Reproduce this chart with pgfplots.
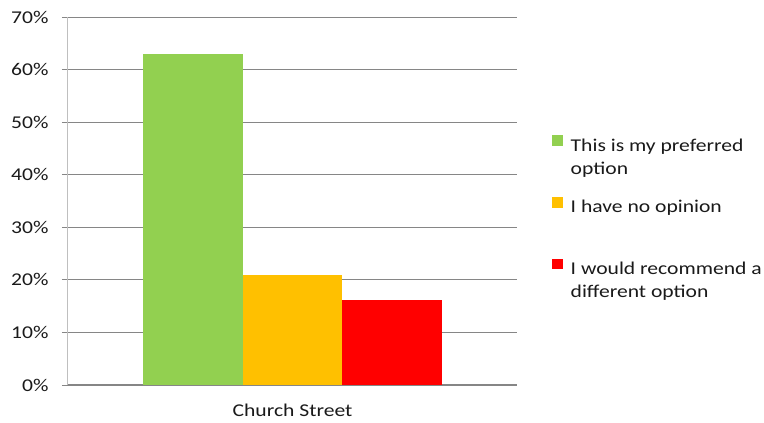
\documentclass[border=0pt]{standalone}
\usepackage{fontspec}
\setmainfont{Carlito}[FakeStretch=1.2]
\usepackage{pgfplots}
\pgfplotsset{compat=1.18}
\definecolor{cgreen}{HTML}{92D050}
\definecolor{corange}{HTML}{FFC000}
\definecolor{cred}{HTML}{FF0000}
\definecolor{gridgrey}{HTML}{868686}
\definecolor{axgrey}{HTML}{BFBFBF}
\definecolor{txt}{HTML}{1A1A1A}
\begin{document}
\begin{tikzpicture}[x=1pt,y=1pt]
\useasboundingbox (0,0) rectangle (764,423);
\begin{axis}[
  at={(68pt,38pt)}, anchor=south west,
  scale only axis, width=449pt, height=368pt,
  ymin=0, ymax=70, ytick={0,10,...,70},
  yticklabel={\pgfmathprintnumber{\tick}\%},
  xmin=-1, xmax=1, xtick={0}, xticklabels={Church Street},
  ybar=0pt, bar width=99.5pt,
  axis y line*=left, axis x line*=bottom,
  y axis line style={draw=axgrey, line width=1pt, -},
  x axis line style={draw=gridgrey, line width=1pt, -},
  ymajorgrids, grid style={draw=gridgrey, line width=0.9pt},
  tick align=outside,
  major tick length=6pt,
  ytick style={draw=gridgrey, line width=0.9pt},
  xtick style={draw=none},
  /pgf/number format/assume math mode=true,
  tick label style={font=\fontsize{18}{21}\selectfont, text=txt},
  yticklabel style={xshift=-10pt},
  xticklabel style={yshift=-9pt},
  legend style={draw=none, at={(552pt-68pt, 252pt)}, anchor=north west,
    font=\fontsize{18}{23}\selectfont, text=txt, row sep=40pt, column sep=6pt,
    inner sep=0pt, cells={anchor=west}},
  legend cell align=left,
  legend image code/.code={\fill[#1, draw=none] (0pt,-2pt) rectangle (10.5pt,8.5pt);},
]
\addplot[fill=cgreen, draw=none] coordinates {(0,63)};
\addplot[fill=corange, draw=none] coordinates {(0,21)};
\addplot[fill=cred, draw=none] coordinates {(0,16.2)};
\legend{{\begin{tabular}[t]{@{}l@{}}This is my preferred\\option\end{tabular}},
        {\begin{tabular}[t]{@{}l@{}}I have no opinion\\ \end{tabular}},
        {\begin{tabular}[t]{@{}l@{}}I would recommend a\\different option\end{tabular}}}
\end{axis}
\end{tikzpicture}
\end{document}
